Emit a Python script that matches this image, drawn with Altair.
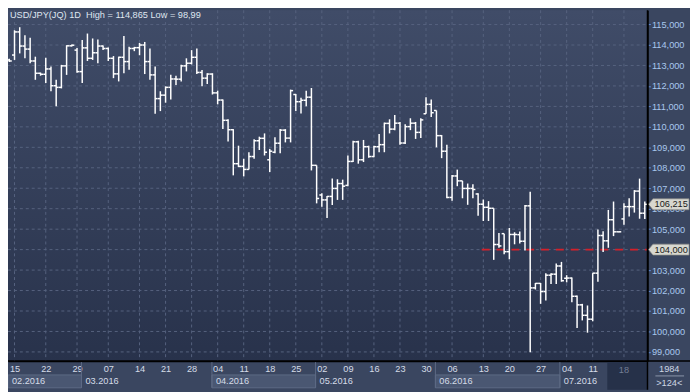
import altair as alt
import pandas as pd

# ---------------- data ----------------
opens = [113.27, 113.51, 114.64, 113.95, 113.80, 113.22, 112.62, 112.57, 112.83, 112.01,
         111.93, 112.98, 113.96, 113.75, 112.70, 113.86, 113.35, 113.62, 113.95, 113.83,
         113.35, 112.59, 113.40, 113.19, 113.83, 113.87, 114.00, 113.19, 112.54, 111.38,
         111.55, 111.93, 112.34, 112.33, 112.98, 113.11, 113.40, 112.66, 112.38, 112.58,
         111.66, 111.31, 110.32, 109.86, 108.20, 108.07, 107.92, 108.55, 109.32, 109.44,
         108.39, 108.76, 109.20, 109.84, 109.45, 111.58, 111.23, 111.30, 111.45, 108.12,
         106.67, 106.43, 106.60, 106.99, 107.23, 107.14, 108.31, 109.27, 108.39, 109.03,
         108.55, 109.03, 109.13, 110.17, 109.89, 110.18, 109.21, 110.01, 110.18, 109.73,
         110.64, 111.10, 110.80, 109.57, 108.81, 106.55, 107.60, 107.36, 106.99, 106.99,
         106.72, 106.22, 106.07, 106.02, 104.25, 104.78, 103.90, 104.74, 104.73, 104.41,
         106.14, 102.13, 102.35, 101.95, 102.75, 102.80, 103.20, 102.60, 102.61, 101.72,
         101.30, 100.79, 100.60, 102.85, 104.69, 104.43, 105.46, 104.87, 105.50, 106.10,
         106.10, 106.86, 105.78]
highs = [113.33, 114.72, 114.87, 114.48, 114.36, 113.43, 112.65, 113.38, 112.95, 112.30,
         113.03, 113.99, 114.02, 113.85, 114.24, 114.56, 114.32, 114.27, 113.98, 113.88,
         113.46, 113.43, 114.44, 113.91, 113.91, 114.10, 114.15, 113.83, 112.95, 111.74,
         111.98, 112.55, 112.50, 113.03, 113.35, 113.75, 113.83, 112.78, 112.62, 112.62,
         111.77, 111.34, 110.37, 109.89, 109.08, 108.44, 108.76, 109.40, 109.52, 109.68,
         108.92, 109.49, 109.89, 109.89, 111.82, 111.61, 111.42, 111.77, 111.90, 108.12,
         106.75, 106.62, 107.47, 107.44, 107.42, 108.60, 109.32, 109.32, 109.36, 109.08,
         109.08, 109.65, 110.21, 110.37, 110.58, 110.24, 110.13, 110.42, 110.24, 110.42,
         111.45, 111.34, 110.80, 109.60, 109.13, 107.65, 107.91, 107.36, 107.23, 107.20,
         106.75, 106.45, 106.37, 106.02, 104.81, 104.78, 105.06, 104.85, 104.89, 106.18,
         106.83, 102.37, 102.37, 102.85, 102.85, 103.32, 103.40, 102.75, 102.64, 101.76,
         101.35, 101.27, 102.85, 104.98, 104.90, 105.94, 106.35, 104.89, 106.27, 106.51,
         106.91, 107.47, 106.35]
lows = [113.17, 113.27, 113.59, 113.35, 113.11, 112.30, 112.50, 112.14, 111.74, 111.01,
        111.88, 112.54, 113.93, 112.65, 112.14, 113.22, 113.27, 113.11, 113.75, 113.22,
        112.38, 112.22, 112.62, 112.79, 113.70, 113.50, 112.58, 112.30, 110.64, 110.77,
        111.18, 111.34, 112.05, 112.22, 112.71, 113.05, 112.58, 111.98, 112.09, 111.58,
        111.10, 109.89, 109.29, 107.63, 108.03, 107.58, 107.91, 108.44, 108.87, 108.60,
        107.79, 108.71, 108.71, 109.24, 109.24, 110.77, 110.65, 111.01, 107.87, 106.26,
        106.10, 105.54, 106.18, 106.43, 106.43, 107.10, 108.28, 108.20, 108.28, 108.49,
        108.52, 108.76, 108.76, 109.68, 109.84, 109.13, 109.16, 109.84, 109.41, 109.45,
        110.64, 110.48, 109.00, 108.47, 106.51, 106.39, 107.10, 106.51, 106.19, 106.51,
        105.65, 105.40, 105.40, 103.50, 104.09, 103.77, 103.53, 104.26, 104.30, 103.96,
        98.99, 102.05, 101.35, 101.51, 102.32, 102.32, 102.43, 102.40, 101.43, 100.17,
        100.54, 99.94, 100.50, 102.43, 103.88, 104.09, 104.66, 104.85, 105.22, 105.62,
        105.81, 105.51, 105.50]
closes = [113.22, 114.64, 113.95, 113.80, 113.22, 112.62, 112.57, 112.83, 112.01, 111.93,
          112.98, 113.96, 113.99, 112.70, 113.86, 113.35, 113.62, 113.95, 113.83, 113.35,
          112.59, 113.40, 113.19, 113.83, 113.87, 114.00, 113.19, 112.54, 111.38, 111.55,
          111.93, 112.34, 112.33, 112.98, 113.11, 113.40, 112.66, 112.38, 112.58, 111.66,
          111.31, 110.32, 109.86, 108.20, 108.07, 107.92, 108.55, 109.32, 109.44, 108.76,
          108.81, 109.20, 109.84, 109.45, 111.77, 111.23, 111.30, 111.45, 108.12, 106.50,
          106.43, 106.60, 106.99, 107.23, 107.10, 108.31, 109.27, 108.39, 109.03, 108.55,
          109.03, 109.13, 110.17, 109.89, 110.18, 109.21, 110.01, 110.18, 109.73, 110.34,
          111.10, 110.69, 109.57, 108.81, 106.55, 107.60, 107.36, 106.99, 106.99, 106.94,
          106.22, 106.07, 106.02, 104.25, 104.18, 103.90, 104.74, 104.74, 104.41, 106.14,
          102.13, 102.35, 101.95, 102.75, 102.80, 103.20, 102.48, 102.61, 101.72, 101.30,
          100.79, 100.60, 102.85, 104.69, 104.43, 105.46, 104.87, 104.87, 106.10, 106.10,
          106.86, 105.78, 106.215]

# day tick labels (bar index of each Monday)
tick_idx = [1, 7, 13, 19, 25, 30, 35, 40, 45, 50, 55, 60, 65, 70, 75, 80, 85, 91, 96, 102, 107, 112, 118]
tick_txt = ["15", "22", "29", "07", "14", "21", "28", "04", "11", "18", "25", "02", "09", "16",
            "23", "30", "06", "13", "20", "27", "04", "11", "18"]

# month row
months = ["02.2016", "03.2016", "04.2016", "05.2016", "06.2016", "07.2016"]
month_start = [-0.25, 13.85, 38.9, 58.8, 81.8, 105.7]
month_end = [13.85, 38.9, 58.8, 81.8, 105.7, 122.52]
month_shaded = [True, False, True, False, True, False]

price_ticks = list(range(99, 116))
last_price = 106.215
level_price = 104.0
level_start = 90.7
title_text = "USD/JPY(JQ) 1D\u00a0 High = 114,865 Low = 98,99"
corner_top = "1984"
corner_bottom = ">124<"

# ---------------- chart ----------------
W, H = 647, 355
FONT = "Liberation Sans"
FS = 9.3
X_DOM = [-0.25, 122.52]
Y_DOM = [98.551, 115.70]
GRID = "#56627e"

xs = alt.Scale(domain=X_DOM, nice=False, zero=False)
ys = alt.Scale(domain=Y_DOM, nice=False, zero=False)

axis_lab = ["" if i == 118 else t for i, t in zip(tick_idx, tick_txt)]
lab_expr = ("[" + ",".join("'%s'" % t for t in axis_lab) + "][indexof(["
            + ",".join(str(v) for v in tick_idx) + "], datum.value)]")

x_axis = alt.Axis(values=tick_idx, labelExpr=lab_expr, grid=False, ticks=False,
                  domain=True, domainColor="#000000", domainWidth=1.5,
                  labelColor="#d5dce8", labelFont=FONT, labelFontSize=FS,
                  labelPadding=4, labelAngle=0, labelFlush=False,
                  labelOverlap=False, labelBound=False, title=None)
# the 104 label is replaced by the level badge, as in the reference
y_axis = alt.Axis(orient="right", values=price_ticks,
                  labelExpr="datum.value == 104 ? '' : replace(format(datum.value, '.3f'), '.', ',')",
                  grid=False, ticks=True, tickSize=3, tickColor="#5d8ad6",
                  domain=True, domainColor="#000000", domainWidth=1.5,
                  labelColor="#a9c8ee", labelFont=FONT, labelFontSize=FS,
                  labelPadding=1, labelOverlap=False, labelFlush=False, title=None)


def X(f):
    return alt.X(f, scale=xs, axis=x_axis, title=None)


def Y(f):
    return alt.Y(f, scale=ys, axis=y_axis, title=None)


df = pd.DataFrame({"i": list(range(len(opens))), "o": opens, "h": highs,
                   "l": lows, "c": closes})

one = pd.DataFrame({"k": [0]})

bg = alt.Chart(one).mark_rect(
    color=alt.LinearGradient(gradient="linear",
                             stops=[alt.GradientStop(color="#404c68", offset=0),
                                    alt.GradientStop(color="#28324b", offset=1)],
                             x1=0, x2=0, y1=0, y2=1)
).encode(x=alt.value(0), x2=alt.value(W), y=alt.value(0), y2=alt.value(H))

gx = alt.Chart(pd.DataFrame({"gx": tick_idx})).mark_rule(
    color=GRID, strokeDash=[3, 3], strokeWidth=1
).encode(x=X("gx:Q"), y=alt.value(0), y2=alt.value(H))

gy = alt.Chart(pd.DataFrame({"gy": price_ticks})).mark_rule(
    color=GRID, strokeDash=[3, 3], strokeWidth=1
).encode(y=Y("gy:Q"), x=alt.value(0), x2=alt.value(W))

level = alt.Chart(pd.DataFrame({"a": [level_start], "b": [X_DOM[1]], "p": [level_price]})).mark_rule(
    color="#d4202a", strokeWidth=2, strokeDash=[8, 7]
).encode(x=X("a:Q"), x2="b:Q", y=Y("p:Q"))

BAR = dict(color="#ffffff", strokeWidth=1.5)
hl = alt.Chart(df).mark_rule(**BAR).encode(x=X("i:Q"), y=Y("l:Q"), y2="h:Q")
op = alt.Chart(df).transform_calculate(ia="datum.i - 0.48").mark_rule(**BAR).encode(
    x=X("ia:Q"), x2="i:Q", y=Y("o:Q"))
cl = alt.Chart(df).transform_calculate(ib="datum.i + 0.48").mark_rule(**BAR).encode(
    x=X("i:Q"), x2="ib:Q", y=Y("c:Q"))

badge_df = pd.DataFrame({"p": [last_price, level_price], "t": ["106,215", "104,000"]})
badge_path = "M-1,0 L-0.78,-0.27 L1,-0.27 L1,0.27 L-0.78,0.27 Z"
badge = alt.Chart(badge_df).mark_point(
    shape=badge_path, size=1681, filled=True, fill="#d8d8d0", stroke="#8a8a86",
    strokeWidth=0.7, opacity=1
).encode(x=alt.value(668.5), y=Y("p:Q"))
badge_t = alt.Chart(badge_df).mark_text(
    font=FONT, fontSize=FS, color="#1a1a1a", align="center", baseline="middle"
).encode(x=alt.value(671), y=Y("p:Q"), text="t:N")

mdf = pd.DataFrame({"m": months, "s": month_start, "e": month_end, "sh": month_shaded})
mbox = alt.Chart(mdf).transform_filter("datum.sh").mark_rect(
    fill="#4a5772", stroke="#5d6a85", strokeWidth=1
).encode(x=X("s:Q"), x2="e:Q", y=alt.value(369), y2=alt.value(382))
msep = alt.Chart(mdf).transform_filter("datum.s > 0").mark_rule(
    color="#5d6a85", strokeWidth=1
).encode(x=X("s:Q"), y=alt.value(356), y2=alt.value(382))
mtxt = alt.Chart(mdf).mark_text(
    font=FONT, fontSize=FS, color="#d5dce8", align="left", baseline="middle", dx=4
).encode(x=X("s:Q"), y=alt.value(375.5), text="m:N")

cur = alt.Chart(pd.DataFrame({"s": [114.8]})).mark_rect(fill="#263149").encode(
    x=X("s:Q"), x2=alt.value(W), y=alt.value(356), y2=alt.value(384))
cur_t = alt.Chart(pd.DataFrame({"d": [118], "t": ["18"]})).mark_text(
    font=FONT, fontSize=FS, color="#737e95", align="center", baseline="middle"
).encode(x=X("d:Q"), y=alt.value(364), text="t:N")

TXT = dict(font=FONT, fontSize=FS, color="#cdd6e4", align="center", baseline="middle")
corner1 = alt.Chart(one).mark_text(**TXT).encode(
    x=alt.value(669), y=alt.value(363), text=alt.value(corner_top))
corner2 = alt.Chart(one).mark_text(**TXT).encode(
    x=alt.value(669), y=alt.value(377), text=alt.value(corner_bottom))
corner_line = alt.Chart(one).mark_rule(color="#8b96aa", strokeWidth=1).encode(
    x=alt.value(655), x2=alt.value(684), y=alt.value(370))

blk_v = alt.Chart(one).mark_rule(color="#000000", strokeWidth=1.5).encode(
    x=alt.value(W), y=alt.value(0), y2=alt.value(384))
blk_h = alt.Chart(one).mark_rule(color="#000000", strokeWidth=1.5).encode(
    x=alt.value(0), x2=alt.value(690), y=alt.value(H))

title = alt.Chart(one).mark_text(
    font=FONT, fontSize=FS, color="#dfe6f0", align="left", baseline="middle"
).encode(x=alt.value(2), y=alt.value(5), text=alt.value(title_text))

chart = alt.layer(
    bg, gx, gy, level, hl, op, cl, badge, badge_t,
    cur, cur_t, mbox, msep, mtxt, corner1, corner2, corner_line, blk_v, blk_h, title
).properties(
    width=W, height=H,
    autosize=alt.AutoSizeParams(type="none"),
    padding={"left": 0, "top": 0, "right": 43, "bottom": 29},
    background="#3a4660",
).configure_view(strokeOpacity=0)

chart.save("out.html", embed_options={"renderer": "svg", "actions": False})
